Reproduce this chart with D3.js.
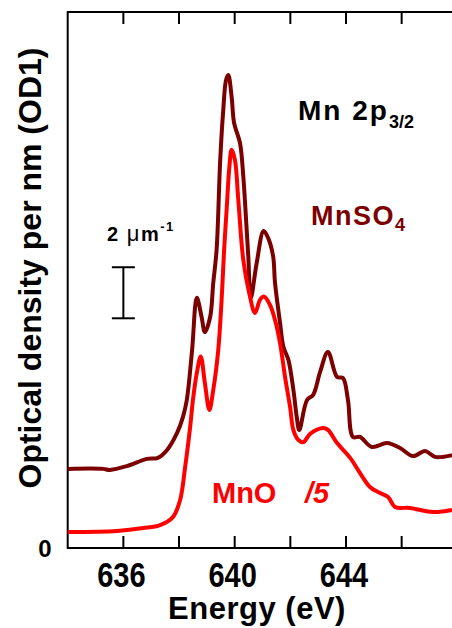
<!DOCTYPE html>
<html>
<head>
<meta charset="utf-8">
<script src="https://cdn.jsdelivr.net/npm/d3@7"></script>
<style>
  body { margin: 0; background: #fff; }
  text { font-family: "Liberation Sans", Arial, sans-serif; }
</style>
</head>
<body>
<svg id="chart" width="452" height="628"></svg>
<script>
// energy (eV) and optical density per nm (in um^-1)
const mnso4Energy = [634.00, 635.27, 635.52, 636.13, 636.85, 637.24, 637.57, 637.93, 638.14, 638.28,
  638.47, 638.64, 638.81, 638.93, 639.12, 639.23, 639.35, 639.48, 639.59, 639.69, 639.77, 639.89,
  639.98, 640.19, 640.31, 640.41, 640.49, 640.58, 640.79, 641.04, 641.20, 641.38, 641.45, 641.63,
  641.75, 641.93, 642.11, 642.23, 642.32, 642.60, 642.82, 643.07, 643.35, 643.68, 643.89, 644.07,
  644.25, 644.50, 644.93, 645.47, 645.94, 646.41, 646.84, 647.20, 647.81];
const mnso4OD = [3.10, 3.10, 3.06, 3.21, 3.49, 3.53, 3.84, 4.51, 5.13, 5.80,
  7.76, 9.80, 9.06, 8.46, 9.06, 10.38, 11.68, 15.20, 17.16, 18.34, 18.53, 17.68,
  16.65, 15.87, 14.55, 12.85, 11.40, 9.80, 11.16, 12.42, 12.15, 11.44, 10.38, 8.82,
  7.88, 7.37, 6.19, 5.13, 4.62, 5.80, 6.00, 6.90, 7.68, 6.70, 6.66, 5.80,
  4.35, 4.35, 3.96, 4.11, 3.92, 3.60, 3.80, 3.57, 3.64];

const mnoEnergy = [634.00, 635.77, 636.71, 637.32, 637.78, 638.04, 638.22, 638.40, 638.50, 638.64,
  638.78, 638.93, 639.09, 639.23, 639.41, 639.53, 639.62, 639.71, 639.81, 639.89, 640.01, 640.13,
  640.31, 640.52, 640.73, 640.91, 641.05, 641.27, 641.45, 641.63, 641.81, 641.99, 642.11, 642.29,
  642.47, 642.71, 643.18, 643.36, 643.68, 644.15, 644.50, 644.86, 645.15, 645.51, 645.76, 646.30,
  647.13, 647.81];
const mnoOD = [0.63, 0.67, 0.78, 0.90, 1.21, 1.88, 3.17, 4.74, 5.80, 6.86,
  7.50, 6.46, 5.41, 6.19, 7.76, 9.72, 11.68, 13.24, 14.94, 15.60, 15.20, 13.64,
  11.28, 10.00, 9.21, 9.72, 9.85, 9.52, 8.93, 8.03, 6.70, 5.53, 4.62, 4.23,
  4.15, 4.47, 4.70, 4.62, 4.11, 3.53, 2.94, 2.39, 2.19, 2.00, 1.61, 1.57,
  1.41, 1.49];

const allTicks = [636, 638, 640, 642, 644, 646];
const labelTicks = [636, 640, 644];

const svg = d3.select("#chart");
const margin = { left: 67.7, top: 12, bottom: 548 };

const x = d3.scaleLinear().domain([634, 648]).range([margin.left, margin.left + 14 * 27.83]);
const y = d3.scaleLinear().domain([0, 21]).range([margin.bottom, margin.top]);

const line = d3.line()
  .x((d) => x(d[0]))
  .y((d) => y(d[1]))
  .curve(d3.curveCatmullRom.alpha(0.5));

const mnso4 = mnso4Energy.map((e, i) => [e, mnso4OD[i]]);
const mno = mnoEnergy.map((e, i) => [e, mnoOD[i]]);

// frame: bottom, top, left
const axisG = svg.append("g");
axisG.append("line")
  .attr("x1", margin.left).attr("x2", 452).attr("y1", margin.bottom).attr("y2", margin.bottom)
  .attr("stroke", "#000").attr("stroke-width", 2);
axisG.append("line")
  .attr("x1", margin.left).attr("x2", 452).attr("y1", margin.top).attr("y2", margin.top)
  .attr("stroke", "#000").attr("stroke-width", 2);
axisG.append("line")
  .attr("x1", margin.left).attr("x2", margin.left).attr("y1", margin.top - 1).attr("y2", margin.bottom + 1)
  .attr("stroke", "#000").attr("stroke-width", 2);

// inward ticks top and bottom
axisG.selectAll(".tb")
  .data(allTicks)
  .enter()
  .append("line")
  .attr("x1", (d) => x(d)).attr("x2", (d) => x(d))
  .attr("y1", margin.bottom).attr("y2", margin.bottom - 12)
  .attr("stroke", "#000").attr("stroke-width", 2);
axisG.selectAll(".tt")
  .data(allTicks)
  .enter()
  .append("line")
  .attr("x1", (d) => x(d)).attr("x2", (d) => x(d))
  .attr("y1", margin.top).attr("y2", margin.top + 12)
  .attr("stroke", "#000").attr("stroke-width", 2);

// tick labels, a bit stretched vertically like the original
axisG.selectAll(".tl")
  .data(labelTicks)
  .enter()
  .append("text")
  .attr("transform", (d) => `translate(${x(d) - 2},587) scale(1,1.22)`)
  .attr("text-anchor", "middle")
  .attr("font-size", 29)
  .attr("font-weight", "bold")
  .text((d) => d);

svg.append("text")
  .attr("x", 45).attr("y", y(0) + 9)
  .attr("text-anchor", "middle")
  .attr("font-size", 24)
  .attr("font-weight", "bold")
  .text("0");

svg.append("text")
  .attr("x", 257).attr("y", 619)
  .attr("text-anchor", "middle")
  .attr("font-size", 31)
  .attr("font-weight", "bold")
  .attr("letter-spacing", 0.5)
  .text("Energy (eV)");

svg.append("text")
  .attr("transform", "translate(41,268) rotate(-90)")
  .attr("text-anchor", "middle")
  .attr("font-size", 32)
  .attr("font-weight", "bold")
  .text("Optical density per nm (OD1)");

// spectra
svg.append("path")
  .datum(mnso4)
  .attr("d", line)
  .attr("fill", "none")
  .attr("stroke", "#7d0000")
  .attr("stroke-width", 4)
  .attr("stroke-linejoin", "round");

svg.append("path")
  .datum(mno)
  .attr("d", line)
  .attr("fill", "none")
  .attr("stroke", "#ff0000")
  .attr("stroke-width", 4)
  .attr("stroke-linejoin", "round");

// scale bar 2 um^-1 at 636 eV
const bar = svg.append("g").attr("stroke", "#000").attr("stroke-width", 2);
bar.append("line")
  .attr("x1", x(636)).attr("x2", x(636)).attr("y1", y(9)).attr("y2", y(11));
[9, 11].forEach((v) => {
  bar.append("line")
    .attr("x1", x(636) - 11.5).attr("x2", x(636) + 11.5)
    .attr("y1", y(v)).attr("y2", y(v));
});

const scaleText = svg.append("text")
  .attr("x", 107).attr("y", 241)
  .attr("font-size", 20)
  .attr("font-weight", "bold")
  .attr("letter-spacing", 1.5);
scaleText.append("tspan").text("2 ");
scaleText.append("tspan").attr("font-weight", "normal").attr("font-size", 22).text("\u03bc");
scaleText.append("tspan").text("m");
scaleText.append("tspan").attr("font-size", 13).attr("dy", -10).text("-1");

// annotations
const title = svg.append("text")
  .attr("x", 298).attr("y", 120)
  .attr("font-size", 28)
  .attr("font-weight", "bold")
  .attr("letter-spacing", 2);
title.append("tspan").text("Mn 2p");
title.append("tspan").attr("font-size", 18).attr("dy", 8).attr("letter-spacing", 0).text("3/2");

const lab1 = svg.append("text")
  .attr("x", 311).attr("y", 225)
  .attr("font-size", 27)
  .attr("font-weight", "bold")
  .attr("letter-spacing", 1.5)
  .attr("fill", "#7d0000");
lab1.append("tspan").text("MnSO");
lab1.append("tspan").attr("font-size", 18).attr("dy", 6).text("4");

const lab2 = svg.append("text")
  .attr("x", 212).attr("y", 503)
  .attr("font-size", 29)
  .attr("font-weight", "bold")
  .attr("fill", "#ff0000");
lab2.append("tspan").text("MnO");
lab2.append("tspan").attr("x", 305).attr("font-style", "italic").text("/5");
</script>
</body>
</html>
